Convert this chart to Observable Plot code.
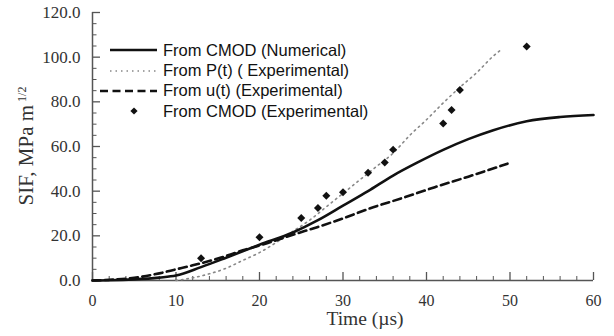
<!DOCTYPE html>
<html>
<head>
<meta charset="utf-8">
<script src="https://cdn.jsdelivr.net/npm/d3@7"></script>
<script src="https://cdn.jsdelivr.net/npm/@observablehq/plot@0.6"></script>
<style>
  body { margin: 0; background: #fff; }
  #wrap { position: relative; width: 614px; height: 336px; }
  #legend { position: absolute; left: 98px; top: 40px; font-family: "Liberation Sans", Arial, sans-serif; font-size: 16.5px; color: #111; }
  #legend .row { display: flex; align-items: center; height: 20.4px; }
  #legend svg { width: 62px; height: 20px; flex: none; }
  #legend span { margin-left: 3px; white-space: nowrap; }
  #ylabel { position: absolute; left: 28px; top: 146px; transform: translate(-50%, -50%) rotate(-90deg);
    font-family: "Liberation Serif", "Times New Roman", serif; font-size: 21px; line-height: 21px; color: #333; white-space: nowrap; }
  #ylabel .sup { position: relative; top: -0.62em; font-size: 12px; margin-left: 3px; }
</style>
</head>
<body>
<div id="wrap"></div>
<script>
// Numerical SIF from CMOD
const numT   = [0, 2, 5, 8, 10, 13, 16, 20, 24, 27, 30, 33, 36, 39, 42, 45, 48, 52, 56, 60];
const numSIF = [0, 0.1, 0.5, 1.3, 2.2, 6, 10.2, 16, 21.5, 27, 33.5, 40, 47, 53, 58.5, 63.3, 67.3, 71.3, 73.2, 74.1];
// From P(t) experimental
const pT   = [10, 12, 14, 16, 18, 20, 22, 24, 26, 28, 30, 32, 34, 36, 38, 40, 42, 44, 46, 48, 49];
const pSIF = [0, 1.2, 3, 5.5, 9, 12.5, 17, 22, 27, 33, 39, 45, 51, 57, 65, 72, 79.5, 86.5, 93, 100.5, 103.5];
// From u(t) experimental
const uT   = [0, 2, 5, 8, 10, 12, 15, 18, 21, 24, 27, 30, 33, 37, 41, 45, 49.7];
const uSIF = [0, 0.3, 1.2, 3.2, 5, 6.8, 9.8, 13.5, 16.8, 20.5, 24, 27.8, 32, 36.8, 41.8, 46.5, 52.3];
// From CMOD experimental
const cmodT   = [13, 20, 25, 27, 28, 30, 33, 35, 36, 42, 43, 44, 52];
const cmodSIF = [10, 19.4, 28, 32.5, 38, 39.5, 48.2, 52.8, 58.6, 70.3, 76.3, 85.3, 104.8];

const yMajor = [0, 20, 40, 60, 80, 100, 120];
const yMinor = d3.range(0, 121, 5).filter(v => v % 20 !== 0);
const xMajor = [0, 10, 20, 30, 40, 50, 60];
const xMinor = d3.range(0, 61, 2).filter(v => v % 10 !== 0);

const legendLabels = ["From CMOD (Numerical)", "From P(t) ( Experimental)", "From u(t) (Experimental)", "From CMOD (Experimental)"];
const yLabel = "SIF, MPa m";
const yLabelSup = "1/2";
const xLabel = "Time (\u00b5s)";

const zip = (a, b) => a.map((t, i) => ({t, v: b[i]}));
const num = zip(numT, numSIF), pExp = zip(pT, pSIF), uExp = zip(uT, uSIF), cmod = zip(cmodT, cmodSIF);

const W = 614, H = 336, ML = 92, MR = 21, MT = 12, MB = 56;
const xDom = [0, 60], yDom = [0, 120];
// convert tick lengths in pixels to data units
const pxX = (W - ML - MR) / (xDom[1] - xDom[0]);
const pxY = (H - MT - MB) / (yDom[1] - yDom[0]);

const axisColor = "#555";
const textColor = "#333";
const serif = "Liberation Serif, Times New Roman, serif";

const chart = Plot.plot({
  width: W,
  height: H,
  marginLeft: ML,
  marginRight: MR,
  marginTop: MT,
  marginBottom: MB,
  style: {background: "#fff", overflow: "visible"},
  x: {domain: xDom},
  y: {domain: yDom},
  marks: [
    Plot.axisY({ticks: yMajor, tickSize: 0, tickPadding: 12, tickFormat: d3.format(".1f"), label: null,
      fontSize: 17, fontFamily: serif, color: textColor}),
    Plot.axisX({ticks: xMajor, tickSize: 0, tickPadding: 14, tickFormat: d3.format("d"), label: null,
      fontSize: 16, fontFamily: serif, color: textColor}),
    // inward tick marks
    Plot.ruleY(yMajor, {y: d => d, x1: 0, x2: 8 / pxX, stroke: axisColor, strokeWidth: 1.3}),
    Plot.ruleY(yMinor, {y: d => d, x1: 0, x2: 4.5 / pxX, stroke: axisColor, strokeWidth: 1}),
    Plot.ruleX(xMajor, {x: d => d, y1: 0, y2: 8 / pxY, stroke: axisColor, strokeWidth: 1.3}),
    Plot.ruleX(xMinor, {x: d => d, y1: 0, y2: 4 / pxY, stroke: axisColor, strokeWidth: 1}),
    Plot.ruleX([0], {stroke: axisColor, strokeWidth: 1.5}),
    Plot.ruleY([0], {stroke: axisColor, strokeWidth: 1.5}),
    Plot.line(pExp, {x: "t", y: "v", curve: "monotone-x", stroke: "#888", strokeWidth: 1.6, strokeDasharray: "1.5,4"}),
    Plot.line(uExp, {x: "t", y: "v", curve: "monotone-x", stroke: "#111", strokeWidth: 2.6, strokeDasharray: "8,4.5"}),
    Plot.line(num, {x: "t", y: "v", curve: "monotone-x", stroke: "#111", strokeWidth: 2.6}),
    Plot.dot(cmod, {x: "t", y: "v", symbol: "diamond2", r: 3.6, fill: "#111", stroke: "none"}),
    Plot.text([xLabel], {frameAnchor: "bottom", dx: 22, dy: 44, fontSize: 19.5, fontFamily: serif, fill: textColor})
  ]
});

const wrap = document.getElementById("wrap");
wrap.appendChild(chart);

// y label with superscript
const yl = document.createElement("div");
yl.id = "ylabel";
yl.innerHTML = `${yLabel}<span class="sup">${yLabelSup}</span>`;
wrap.appendChild(yl);

// Legend overlay inside plot area
const legend = document.createElement("div");
legend.id = "legend";
const samples = [
  '<line x1="12" y1="10" x2="59" y2="10" stroke="#111" stroke-width="2.6"/>',
  '<line x1="12" y1="10" x2="59" y2="10" stroke="#888" stroke-width="1.6" stroke-dasharray="1.5,4"/>',
  '<line x1="2" y1="10" x2="59" y2="10" stroke="#111" stroke-width="2.6" stroke-dasharray="8,4.5"/>',
  '<path d="M36,6.4 L39.6,10 L36,13.6 L32.4,10 Z" fill="#111"/>'
];
legendLabels.forEach((lab, i) => {
  const row = document.createElement("div");
  row.className = "row";
  row.innerHTML = `<svg viewBox="0 0 62 20">${samples[i]}</svg><span>${lab}</span>`;
  legend.appendChild(row);
});
wrap.appendChild(legend);
</script>
</body>
</html>
